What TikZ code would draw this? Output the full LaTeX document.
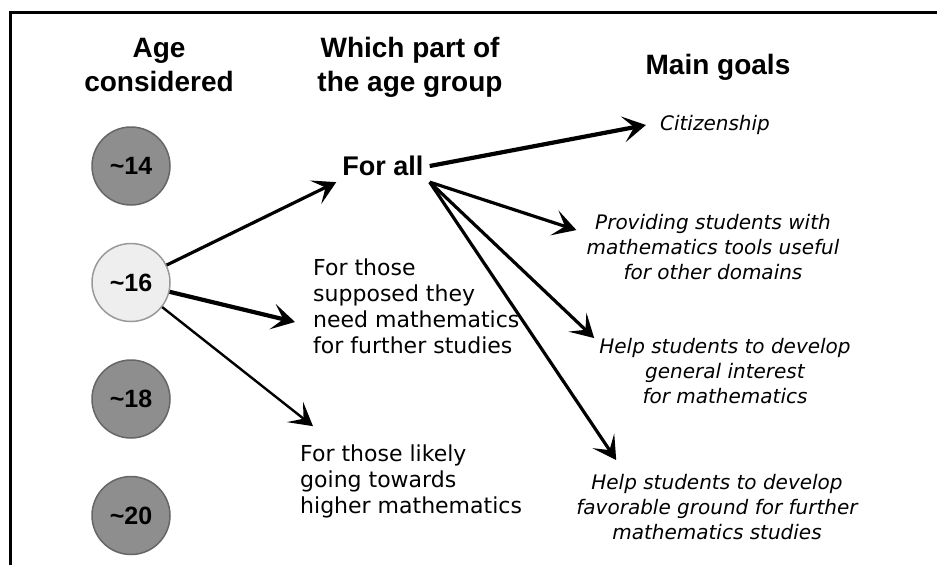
\documentclass[tikz,border=0pt]{standalone}
\usepackage{fontspec}
\setmainfont{DejaVu Sans}
\newfontfamily\headfont{Liberation Sans}
\usetikzlibrary{arrows.meta,positioning}
\definecolor{agedark}{HTML}{8E8E8E}
\definecolor{agelight}{HTML}{EEEEEE}

\begin{document}
\begin{tikzpicture}[x=1pt,y=1pt,>={Stealth[length=23pt,width=26pt,inset=11pt]},->,
  age/.style = {draw=black!60,circle,line width=1.5pt,fill=agedark,minimum size=78pt,inner sep=0pt,font=\headfont\fontsize{25}{30}\selectfont\bfseries},
  head/.style = {align=center,inner sep=0pt,font=\headfont\fontsize{28}{34}\selectfont\bfseries},
  grp/.style = {align=left,inner sep=0pt,font=\fontsize{22}{26}\selectfont},
  goal/.style = {align=center,inner sep=0pt,font=\fontsize{20}{25}\selectfont\itshape},
  heavy/.style = {line width=4.2pt},
  medium/.style = {line width=3.2pt},
  light/.style = {line width=2.4pt},
  node distance = 37pt]

\useasboundingbox (0,0) rectangle (937,-565);
\draw[-,line width=3pt] (10,-565) -- (10,-12) -- (937,-12);

\node[head] (hage) at (159,-65) {Age\\considered};
\node[head] (hpart) at (410,-67) {Which part of\\the age group};
\node[head] (hgoal) at (718,-67) {Main goals};

\node[age] (a14) at (131,-166) {\textasciitilde14};
\node[age,fill=agelight,draw=black!40] (a16) [below=of a14] {\textasciitilde16};
\node[age] (a18) [below=of a16] {\textasciitilde18};
\node[age] (a20) [below=of a18] {\textasciitilde20};

\node[head,inner sep=6pt,font=\headfont\fontsize{27}{32}\selectfont\bfseries] (forall) at (383,-166) {For all};
\node[grp,anchor=west] (supp) at (313,-306) {For those\\supposed they\\need mathematics\\for further studies};
\node[grp,anchor=west] (likely) at (300,-481) {For those likely\\going towards\\higher mathematics};

\node[goal] (cit) at (715,-125) {Citizenship};
\node[goal] (prov) at (713,-247) {Providing students with\\mathematics tools useful\\for other domains};
\node[goal] (help1) at (725,-371) {Help students to develop\\general interest\\for mathematics};
\node[goal] (help2) at (717,-507) {Help students to develop\\favorable ground for further\\mathematics studies};

\path (a16) edge[medium] (forall.south west);
\path (a16) edge[heavy] ([shift={(-18,-16)}]supp.west);
\path (a16) edge[light] ([shift={(13,18)}]likely.north west);

\path (forall.east) edge[heavy] ([xshift=-14pt]cit.west);
\path (forall.south east) edge[medium] ([shift={(-10,-16)}]prov.north west);
\path (forall.south east) edge[medium] ([xshift=-5pt]help1.north west);
\path (forall.south east) edge[medium] ([shift={(40,14)}]help2.north west);

\end{tikzpicture}
\end{document}
